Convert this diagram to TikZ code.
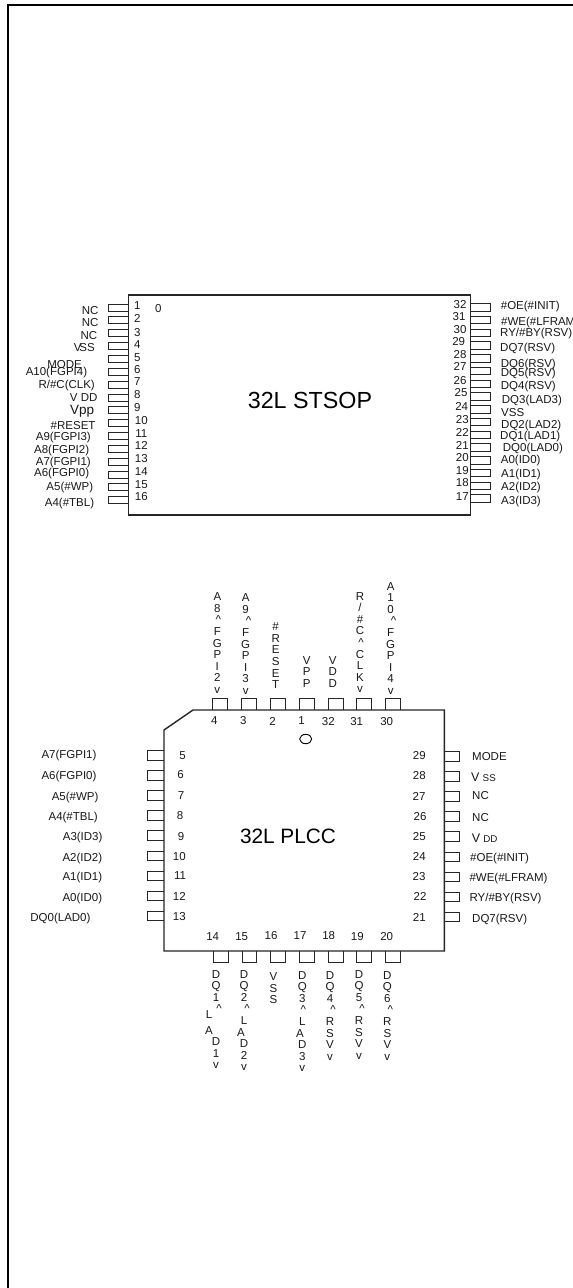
\documentclass[tikz,border=0pt]{standalone}
\usepackage{fontspec}
\setmainfont{Liberation Sans}
\newcommand\hatc{\kern6pt\textasciicircum}
\newcommand\hatb{\kern2pt\textasciicircum}
\tikzset{
  frameline/.style={line width=2pt,black},
  body/.style={line width=1.4pt,draw=black!85},
  pinbox/.style={line width=0.9pt,draw=black!85},
  lbl/.style={inner sep=0pt,text height=8.2pt,text depth=0pt,font=\fontsize{11.5}{12}\selectfont,text=black!90},
  num/.style={lbl},
  lblr/.style={lbl,anchor=east},
  lbll/.style={lbl,anchor=west},
  vstack/.style={inner sep=0pt,anchor=north,align=center,font=\fontsize{11.5}{11.6}\selectfont,text=black!90},
  title/.style={inner sep=0pt,text=black}
}
\begin{document}
\begin{tikzpicture}[x=1pt,y=-1pt]
\useasboundingbox (0,0) rectangle (573,1288);
\fill[white] (0,0) rectangle (573,1288);
% outer frame (left and top only)
\draw[frameline] (573,5) -- (7.5,5) -- (7.5,1288);

% ===== 32L STSOP =====
\foreach \i in {0,...,15}{
  \draw[pinbox] (108,{304+12.85*\i}) rectangle (128.5,{311+12.85*\i});
  \draw[pinbox] (470.7,{303.5+12.75*\i}) rectangle (490.7,{311+12.75*\i});
}
\draw[body] (128.5,295) rectangle (470.7,515);
\node[title,font=\fontsize{23.3}{25}\selectfont] (stsop) at (310,400) {32L STSOP};
\node[num] (zero) at ({475/3},{285+70/3}) {0};

\foreach \n/\x/\y in {1/412/62,2/412/100,3/412/142,4/412/178,5/412/216,6/412/252,7/412/290,8/412/328,9/412/368,10/424/406,11/424/444,12/424/482,13/424/521,14/424/560,15/424/597,16/424/635}
  \node[num] (sn\n) at ({\x/3},{285+\y/3}) {\n};
\foreach \n/\x/\y in {32/180/57,31/177/93,30/180/133,29/176/170,28/180/207,27/180/245,26/180/285,25/183/323,24/185/365,23/187/403,22/187/442,21/187/480,20/187/517,19/187/556,18/187/592,17/187/633}
  \node[num] (sn\n) at ({400+\x/3},{285+\y/3}) {\n};

\foreach \k/\x/\y/\t in {a/296/75/NC,b/296/112/NC,c/292/150/NC,e/246/238/MODE,f/262/258/A10(FGPI4),g/285/297/{R/\#C(CLK)},h/293/338/V DD,j/287/420/\#RESET,k/273/455/A9(FGPI3),l/268/492/A8(FGPI2),m/273/530/A7(FGPI1),n/268/563/A6(FGPI0),o/280/605/A5(\#WP),p/283/652/A4(\#TBL)}
  \node[lblr] (sl\k) at ({\x/3},{285+\y/3}) {\t};
\node[lblr] (sld) at ({285/3},{285+188/3}) {V\kern-2pt SS};
\node[lblr,font=\fontsize{13.5}{14}\selectfont,text height=9.5pt] (sli) at ({283/3},{285+373/3}) {Vpp};

\foreach \k/\x/\y/\t in {a/302/60/\#OE(\#INIT),b/303/108/\#WE(\#LFRAM,c/300/143/{RY/\#BY(RSV)},d/300/188/DQ7(RSV),e/302/235/DQ6(RSV),f/302/263/DQ5(RSV),g/302/302/DQ4(RSV),h/305/342/DQ3(LAD3),i/303/382/VSS,j/303/418/DQ2(LAD2),k/300/450/DQ1(LAD1),l/308/488/DQ0(LAD0),m/302/522/A0(ID0),n/303/565/A1(ID1),o/303/603/A2(ID2),p/303/645/A3(ID3)}
  \node[lbll] (sr\k) at ({400+\x/3},{285+\y/3}) {\t};

% ===== 32L PLCC =====
\foreach \px in {212.7,241.3,270.3,299.3,328,356.7,385.7}
  \draw[pinbox] (\px,710) -- (\px,698) -- ({\px+15},698) -- ({\px+15},710);
\foreach \px in {213.3,242,270.3,299.3,328.3,356.7,385.7}
  \draw[pinbox] (\px,951) -- (\px,962.7) -- ({\px+14.7},962.7) -- ({\px+14.7},951);
\foreach \i in {0,...,8}{
  \draw[pinbox] (164,{750.7+20.05*\i}) -- (147.3,{750.7+20.05*\i}) -- (147.3,{760.2+20.05*\i}) -- (164,{760.2+20.05*\i});
  \draw[pinbox] (444.3,{751.7+20.05*\i}) -- (459.3,{751.7+20.05*\i}) -- (459.3,{761+20.05*\i}) -- (444.3,{761+20.05*\i});
}
\draw[body] (193,710) -- (444.3,710) -- (444.3,951) -- (164,951) -- (164,730) -- cycle;
\draw[line width=0.9pt,black] (305.7,739) ellipse (6pt and 4.7pt);
\node[title,font=\fontsize{20.8}{23}\selectfont] (plcc) at (288,836) {32L PLCC};

\foreach \n/\x/\y in {4/223/452,3/310/450,2/398/453,1/485/450,32/565/453,31/650/453,30/740/453}
  \node[num] (pn\n) at ({140+\x/3},{570+\y/3}) {\n};
\foreach \n/\x/\y in {14/218/48,15/305/48,16/393/47,17/480/47,18/566/47,19/652/50,20/740/50}
  \node[num] (pn\n) at ({140+\x/3},{920+\y/3}) {\n};
\foreach \n/\x/\y in {5/488/75,6/482/132,7/483/195,8/480/255,9/483/318,10/478/378,11/480/435,12/478/498,13/478/558}
  \node[num] (pn\n) at ({20+\x/3},{730+\y/3}) {\n};
\foreach \n/\x/\y in {29/88/75,28/88/135,27/87/198,26/90/258,25/88/318,24/88/378,23/87/438,22/90/498,21/88/561}
  \node[num] (pn\n) at ({390+\x/3},{730+\y/3}) {\n};

\foreach \k/\x/\y/\t in {a/230/72/A7(FGPI1),b/230/135/A6(FGPI0),c/236/198/A5(\#WP),d/234/258/A4(\#TBL),e/248/318/A3(ID3),f/247/381/A2(ID2),g/247/438/A1(ID1),h/247/501/A0(ID0),i/212/561/DQ0(LAD0)}
  \node[lblr] (pl\k) at ({20+\x/3},{730+\y/3}) {\t};
\foreach \k/\x/\y/\t in {a/246/78/MODE,c/246/195/NC,d/246/261/NC,f/240/381/\#OE(\#INIT),g/238/441/\#WE(\#LFRAM),h/238/501/{RY/\#BY(RSV)},i/246/564/DQ7(RSV)}
  \node[lbll] (pr\k) at ({390+\x/3},{730+\y/3}) {\t};
\node[lbll] (prb) at ({390+243/3},{730+143/3}) {{\fontsize{12.5}{13}\selectfont V} {\fontsize{9.8}{12}\selectfont SS}};
\node[lbll] (pre) at ({390+245/3},{730+325/3}) {{\fontsize{12.5}{13}\selectfont V} {\fontsize{9.8}{12}\selectfont DD}};

% top vertical labels
\node[vstack] (tb) at ({140+232/3},{570+80/3-4}) {A\\8\\\hatb\\F\\G\\P\\I\\2\\v};
\node[vstack] (tc) at ({140+317/3},{570+83/3-4}) {A\\9\\\hatc\\F\\G\\P\\I\\3\\v};
\node[vstack] (td) at ({140+407/3},{570+170/3-4}) {\#\\R\\E\\S\\E\\T};
\node[vstack] (te) at ({140+500/3},{570+270/3-4}) {V\\P\\P};
\node[vstack] (tf) at ({140+578/3},{570+270/3-4}) {V\\D\\D};
\node[vstack] (tg) at ({140+660/3},{570+78/3-4}) {R\\/\\\#\\C\\\hatb\\C\\L\\K\\v};
\node[vstack] (th) at ({140+752/3},{570+48/3-4}) {A\\1\\0\\\hatc\\F\\G\\P\\I\\4\\v};

% bottom vertical labels
\node[vstack] (ba) at ({140+228/3},{920+162/3-4}) {D\\Q\\1\\\hatc\\[-6pt]L\kern14pt\\[4pt]A\kern14pt\\D\\1\\v};
\node[vstack] (bb) at ({140+312/3},{920+162/3-4}) {D\\Q\\2\\\hatc\\L\\A\kern6pt\\D\\2\\v};
\node[vstack] (bc) at ({140+400/3},{920+170/3-4}) {V\\S\\S};
\node[vstack] (bd) at ({140+487/3},{920+165/3-4}) {D\\Q\\3\\\hatb\\L\\A\kern5pt\\D\\3\\v};
\node[vstack] (be) at ({140+570/3},{920+165/3-4}) {D\\Q\\4\\\hatc\\R\\S\\V\\v};
\node[vstack] (bf) at ({140+657/3},{920+162/3-4}) {D\\Q\\5\\\hatc\\R\\S\\V\\v};
\node[vstack] (bg) at ({140+742/3},{920+165/3-4}) {D\\Q\\6\\\hatc\\R\\S\\V\\v};
\end{tikzpicture}
\end{document}
